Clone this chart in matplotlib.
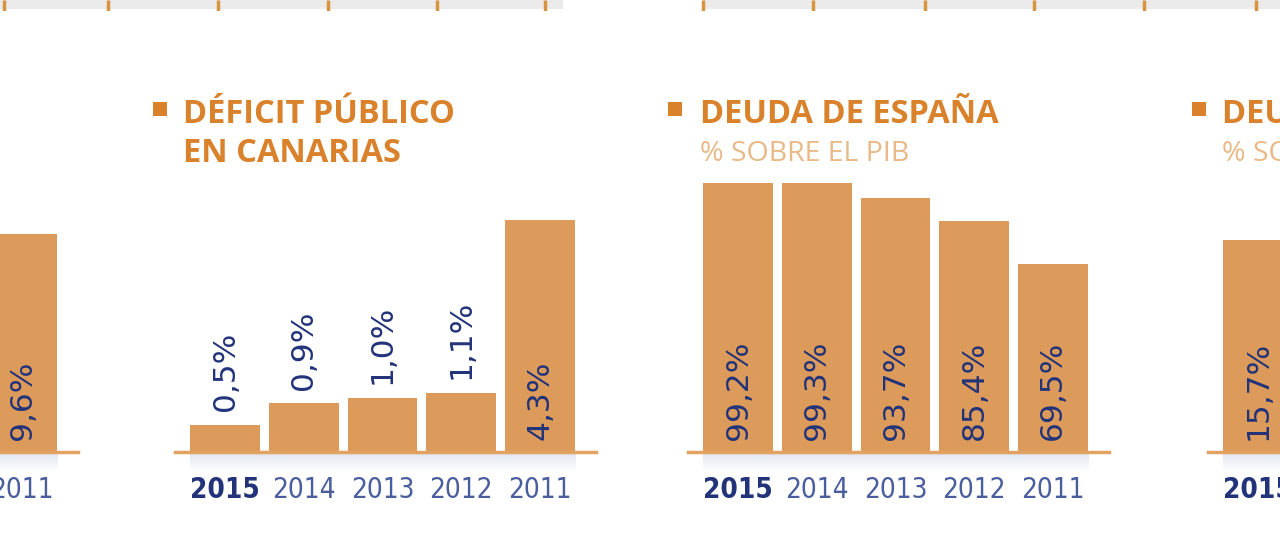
import numpy as np
import matplotlib.pyplot as plt
from matplotlib.patches import Rectangle

# --- datos ---
years = ['2015', '2014', '2013', '2012', '2011']
deficit_esp = [np.nan, np.nan, np.nan, np.nan, 9.6]    # solo 2011 entra en el recorte
deficit_can = [0.5, 0.9, 1.0, 1.1, 4.3]
deuda_esp = [99.2, 99.3, 93.7, 85.4, 69.5]
deuda_can = [15.7, np.nan, np.nan, np.nan, np.nan]     # solo 2015 entra en el recorte

# restos del grafico de arriba (marcas de eje)
top_ticks = [4, 108, 218, 328, 437, 545, 703, 813, 925, 1034, 1144, 1256]
top_bands = [(0, 563), (703, 1280)]

# --- estilo ---
BAR = '#DC9B5A'
LINE = '#E2A262'
TITLE = '#D9822B'
SUB = '#E9B987'
NAVY = '#22337A'
YEAR = '#4A5E9E'

W, H = 1280, 548
BASE = 452          # y del eje en pixeles
AX_H = 272          # alto de los ejes en pixeles
PANEL_W = 420.5
XMIN, XMAX = -0.64, 4.71

fig = plt.figure(figsize=(W / 100, H / 100), dpi=100)


def fx(px):
    return px / W


def fy(py):
    return 1 - py / H


def fmt(v):
    return f'{v:.1f}'.replace('.', ',') + '%'


def panel(x0, vals, ymax):
    ax = fig.add_axes([fx(x0), fy(BASE), PANEL_W / W, AX_H / H])
    ax.set_xlim(XMIN, XMAX)
    ax.set_ylim(0, ymax)
    x = np.arange(len(years))
    ax.bar(x, vals, width=0.89, color=BAR, zorder=2)
    ax.axhline(0, color=LINE, lw=2.5, zorder=3, clip_on=False)

    # sombra bajo la linea base
    grad = np.zeros((20, 1, 4))
    grad[:, 0, :3] = (0.80, 0.83, 0.90)
    grad[:, 0, 3] = np.linspace(0.6, 0.0, 20)
    sh = ax.imshow(grad, aspect='auto', extent=(-0.45, 4.45, -ymax * 20 / AX_H, 0),
                   zorder=1, interpolation='bilinear')
    sh.set_clip_on(False)

    px_per_unit = AX_H / ymax
    shown = []
    for i, v in enumerate(vals):
        if np.isnan(v):
            continue
        shown.append(i)
        if v * px_per_unit > 120:
            ax.annotate(fmt(v), (i, 0), xytext=(0, 9), textcoords='offset points',
                        rotation=90, ha='center', va='bottom', color=NAVY,
                        fontsize=22.5, family='DejaVu Sans')
        else:
            ax.annotate(fmt(v), (i, v), xytext=(0, 10), textcoords='offset points',
                        rotation=90, ha='center', va='bottom', color=NAVY,
                        fontsize=22.5, family='DejaVu Sans')

    ax.set_xticks(shown, [years[i] for i in shown])
    ax.tick_params(axis='x', length=0, pad=17)
    for i, lab in zip(shown, ax.get_xticklabels()):
        lab.set_family('DejaVu Sans')
        lab.set_fontstretch('condensed')
        lab.set_fontsize(20)
        if i == 0:
            lab.set_color(NAVY)
            lab.set_fontweight('bold')
        else:
            lab.set_color(YEAR)
    ax.set_yticks([])
    for s in ax.spines.values():
        s.set_visible(False)
    ax.patch.set_alpha(0)
    return ax


def title(xsq, xtxt, lines, sub=None):
    fig.add_artist(Rectangle((fx(xsq), fy(116)), 14 / W, 14 / H,
                             transform=fig.transFigure, color=TITLE, lw=0))
    for k, t in enumerate(lines):
        fig.text(fx(xtxt), fy(123 + 39 * k), t, color=TITLE, fontsize=23.5,
                 fontweight='bold', family='Open Sans', va='baseline')
    if sub:
        fig.text(fx(xtxt), fy(161), sub, color=SUB, fontsize=20.5,
                 family='Open Sans', va='baseline')


panel(78 - PANEL_W, deficit_esp, 12.0)
panel(175, deficit_can, 5.04)
panel(688, deuda_esp, 100.4)
panel(1208, deuda_can, 20.1)

title(153, 183, ['DÉFICIT PÚBLICO', 'EN CANARIAS'])
title(668, 700, ['DEUDA DE ESPAÑA'], '% SOBRE EL PIB')
title(1192, 1222, ['DEUDA DE CANARIAS'], '% SOBRE EL PIB')

# franja superior
top = fig.add_axes([0, fy(11), 1, 11 / H])
top.set_xlim(0, W)
top.set_ylim(0, 1)
for a, b in top_bands:
    top.axvspan(a, b, ymin=0.15, color='#EBEBEB', lw=0)
top.vlines(top_ticks, 0, 1, color='#D9923F', lw=2.5)
top.axis('off')

fig.savefig('out.png', dpi=100)
